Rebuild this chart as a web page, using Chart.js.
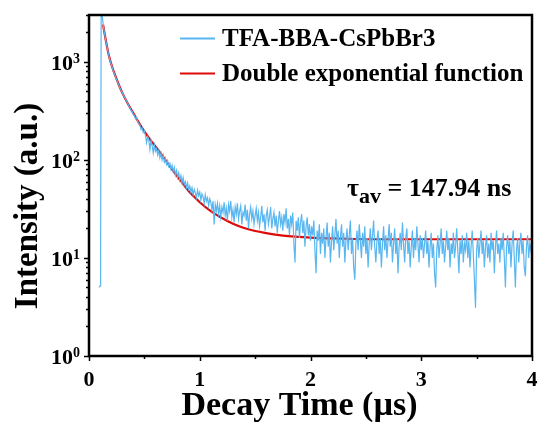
<!DOCTYPE html>
<html>
<head>
<meta charset="utf-8">
<script src="https://cdn.jsdelivr.net/npm/chart.js@4.4.1/dist/chart.umd.min.js"></script>
<style>
  html, body { margin: 0; padding: 0; background: #fff; }
  #wrap { width: 539px; height: 424px; }
</style>
</head>
<body>
<div id="wrap"><canvas id="myChart" width="539" height="424"></canvas></div>
<script>
// rise of the measured trace (time in us, counts)
var riseTime = [0.09, 0.10, 0.105, 0.11];
var riseCounts = [5, 5.2, 12, 3600];

// measured decay, one value per 0.01 us channel starting at 0.12 us
var decayStart = 0.12;
var decayStep = 0.01;
var decayCounts = [
    2900, 2300, 1950, 1680, 1480, 1300, 1150, 1030, 950, 870,
    800, 745, 700, 655, 610, 575, 540, 510, 485, 460,
    438, 415, 395, 378,
    355, 340, 318, 312, 290, 285, 262, 270, 245, 236,
    228, 205, 212, 190, 198, 178, 150, 172, 160, 128,
    158, 140, 118, 142, 122, 130, 112, 125, 105, 118,
    100, 112, 95, 104, 90, 98, 86, 92, 80, 88,
    76, 84, 70, 78, 66, 74, 62, 69, 58, 66,
    56, 60, 52, 58, 50,
    54, 47, 52, 44, 50, 46, 41, 49, 43, 47,
    39, 45, 42, 36, 44, 38, 41, 34, 40, 37,
    31, 38, 22, 35, 30, 36, 28, 34, 26, 33,
    29, 37, 27, 32, 24, 35, 30, 38, 26, 31,
    23, 33, 28, 36, 25, 30, 34, 22, 29, 27,
    35, 24, 31, 20, 28, 33, 25, 30, 22, 27,
    32, 24, 29, 21, 26, 34, 23, 28, 19, 27,
    31, 22, 26, 33, 20, 25, 29, 21, 27, 18,
    24, 30, 22, 26, 19, 28, 23, 32, 20, 25,
    17, 27, 22, 29, 14, 9, 24, 19, 26, 16,
    23, 28, 18, 24, 13, 21, 26, 17, 22, 15,
    21, 17, 24, 12, 7, 19, 15, 22, 11, 18,
    14, 20, 10, 16, 23, 13, 18, 9, 15, 21,
    12, 17, 25, 14, 19, 10, 16, 22, 13, 18,
    9, 15, 20, 12, 17, 24, 11, 16, 8, 6,
    14, 19, 12, 22, 15, 10, 18, 13, 21, 11,
    16, 8, 14, 20, 12, 17, 24, 13, 9, 15,
    19, 11, 16, 8, 14, 21, 12, 17, 10, 15,
    22, 13, 18, 9, 14, 20, 11, 16, 7, 13,
    18, 12, 23, 14, 9, 16, 20, 11, 15, 8,
    13, 19, 10, 16, 12, 21, 14, 9, 17, 12,
    16, 10, 14, 19, 11, 15, 8, 13, 18, 10,
    14, 7, 5, 12, 17, 10, 14, 20, 11, 15,
    9, 13, 19, 12, 16, 8, 14, 11, 18, 10,
    13, 20, 12, 7, 15, 11, 17, 9, 14, 12,
    18, 10, 15, 8, 13, 19, 11, 6, 3.1, 12,
    16, 10, 14, 19, 11, 15, 8, 13, 17, 10,
    14, 9, 18, 12, 15, 7, 13, 19, 11, 14,
    9, 16, 12, 18, 10, 5, 13, 17, 11, 15,
    8, 14, 19, 10, 5, 12, 16, 9, 14, 18,
    11, 15, 8, 6.5, 13, 17, 10, 14, 12, 16
];

// double exponential fit
var fitTime = [0.127, 0.15, 0.18, 0.21, 0.24, 0.27, 0.30, 0.35, 0.40, 0.45,
    0.50, 0.55, 0.60, 0.65, 0.70, 0.75, 0.80, 0.85, 0.90, 0.95,
    1.00, 1.10, 1.20, 1.30, 1.40, 1.50, 1.60, 1.70, 1.80, 1.90,
    2.00, 2.20, 2.40, 2.60, 3.00, 3.50, 4.00];
var fitCounts = [2390, 1700, 1150, 880, 710, 580, 485, 375, 300, 240,
    195, 162, 137, 115, 96, 80, 67, 57, 48, 42,
    37, 30, 25.5, 22.3, 20.2, 18.8, 17.9, 17.2, 16.7, 16.4,
    16.1, 15.8, 15.6, 15.5, 15.5, 15.5, 15.5];

var xTicks = [0, 1, 2, 3, 4];
var yTicks = [1, 10, 100, 1000];
var yTickExp = ['0', '1', '2', '3'];

var seriesNames = ['TFA-BBA-CsPbBr3', 'Double exponential function'];
var tauLabel = ' = 147.94 ns';

var measured = [];
for (var i = 0; i < riseTime.length; i++) {
    measured.push({ x: riseTime[i], y: riseCounts[i] });
}
for (var j = 0; j < decayCounts.length; j++) {
    measured.push({ x: decayStart + j * decayStep, y: decayCounts[j] });
}
var fitted = [];
for (var k = 0; k < fitTime.length; k++) {
    fitted.push({ x: fitTime[k], y: fitCounts[k] });
}

var serif = '"Liberation Serif", "Times New Roman", serif';
var blue = 'rgb(88,182,240)';
var red = 'rgb(222,10,10)';

var framePlugin = {
    id: 'frame',
    afterDraw: function(chart) {
        var ctx = chart.ctx;
        var a = chart.chartArea;
        var xs = chart.scales.x;
        var ys = chart.scales.y;
        ctx.save();
        ctx.strokeStyle = '#000';
        ctx.fillStyle = '#000';

        // ticks
        ctx.lineWidth = 1.5;
        ctx.beginPath();
        for (var v = 0; v <= 4; v += 0.5) {
            var px = Math.round(xs.getPixelForValue(v)) + 0.5;
            var len = (v % 1 === 0) ? 5 : 3;
            ctx.moveTo(px, a.bottom);
            ctx.lineTo(px, a.bottom + len);
        }
        for (var d = 1; d <= 1000; d *= 10) {
            for (var m = 1; m <= 9; m++) {
                var val = m * d;
                if (val > 3000) break;
                var py = Math.round(ys.getPixelForValue(val)) + 0.5;
                var l2 = (m === 1) ? 5 : 3;
                ctx.moveTo(a.left, py);
                ctx.lineTo(a.left - l2, py);
            }
        }
        ctx.stroke();

        // frame
        ctx.lineWidth = 2.5;
        ctx.strokeRect(a.left, a.top, a.right - a.left, a.bottom - a.top);

        // x tick labels
        ctx.font = 'bold 22px ' + serif;
        ctx.textAlign = 'center';
        ctx.textBaseline = 'alphabetic';
        xTicks.forEach(function(t) {
            ctx.fillText(String(t), xs.getPixelForValue(t), a.bottom + 30);
        });

        // y tick labels with superscript
        yTicks.forEach(function(t, idx) {
            var py = ys.getPixelForValue(t);
            ctx.font = 'bold 14px ' + serif;
            ctx.textAlign = 'left';
            ctx.fillText(yTickExp[idx], 73, py + 1);
            ctx.font = 'bold 22px ' + serif;
            ctx.textAlign = 'right';
            ctx.fillText('10', 73, py + 8);
        });

        // axis titles
        ctx.font = 'bold 34px ' + serif;
        ctx.textAlign = 'center';
        ctx.fillText('Decay Time (\u00b5s)', (a.left + a.right) / 2 - 11, 415);
        ctx.font = 'bold 33px ' + serif;
        ctx.save();
        ctx.translate(37, 206);
        ctx.rotate(-Math.PI / 2);
        ctx.fillText('Intensity (a.u.)', 0, 0);
        ctx.restore();

        // legend
        ctx.lineWidth = 2;
        ctx.strokeStyle = blue;
        ctx.beginPath();
        ctx.moveTo(180, 38.5);
        ctx.lineTo(215, 38.5);
        ctx.stroke();
        ctx.strokeStyle = red;
        ctx.beginPath();
        ctx.moveTo(180, 73.5);
        ctx.lineTo(215, 73.5);
        ctx.stroke();
        ctx.font = 'bold 25px ' + serif;
        ctx.textAlign = 'left';
        ctx.fillText(seriesNames[0], 222, 46);
        ctx.fillText(seriesNames[1], 222, 81);

        // lifetime note
        ctx.font = 'bold 26px ' + serif;
        ctx.fillText('\u03c4', 347, 196);
        var w = ctx.measureText('\u03c4').width;
        ctx.font = 'bold 22px ' + serif;
        ctx.fillText('av', 347 + w, 203);
        var w2 = ctx.measureText('av').width;
        ctx.font = 'bold 26px ' + serif;
        ctx.fillText(tauLabel, 347 + w + w2, 196);

        ctx.restore();
    }
};

var ctx = document.getElementById('myChart').getContext('2d');
var chartInstance = new Chart(ctx, {
    type: 'line',
    data: {
        datasets: [{
            label: seriesNames[0],
            data: measured,
            borderColor: blue,
            borderWidth: 1.2,
            pointRadius: 0,
            fill: false,
            tension: 0
        }, {
            label: seriesNames[1],
            data: fitted,
            borderColor: red,
            borderWidth: 2.2,
            pointRadius: 0,
            fill: false,
            cubicInterpolationMode: 'monotone'
        }]
    },
    options: {
        responsive: false,
        animation: false,
        layout: { padding: { top: 15, right: 7, left: 0, bottom: 0 } },
        plugins: {
            legend: { display: false },
            tooltip: { enabled: false }
        },
        scales: {
            x: {
                type: 'linear',
                min: 0,
                max: 4,
                grid: { display: false },
                border: { display: false },
                ticks: { display: false },
                afterFit: function(scale) { scale.height = 68; }
            },
            y: {
                type: 'logarithmic',
                min: 1,
                max: 3000,
                grid: { display: false },
                border: { display: false },
                ticks: { display: false },
                afterFit: function(scale) { scale.width = 89; }
            }
        }
    },
    plugins: [framePlugin]
});
</script>
</body>
</html>
